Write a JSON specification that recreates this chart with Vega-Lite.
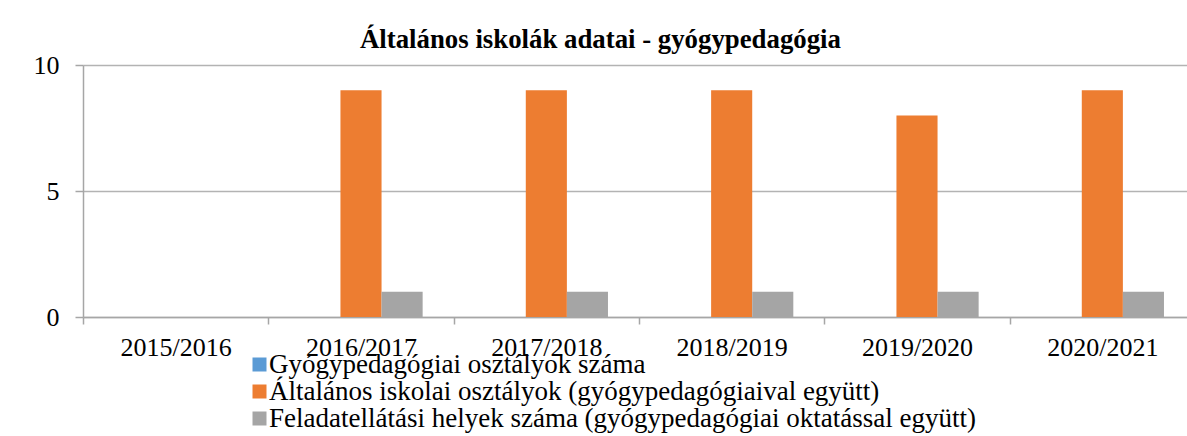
{
  "$schema": "https://vega.github.io/schema/vega-lite/v6.json",
  "autosize": "none",
  "width": 1112,
  "height": 252,
  "padding": {"left": 83, "top": 65, "right": 0, "bottom": 119},
  "background": "white",
  "config": {
    "font": "Liberation Serif",
    "view": {"stroke": null},
    "title": {"font": "Liberation Serif"},
    "legend": {"labelFont": "Liberation Serif"},
    "axis": {"labelFont": "Liberation Serif"}
  },
  "title": {
    "text": "Általános iskolák adatai - gyógypedagógia",
    "anchor": "start",
    "frame": "group",
    "dx": 277,
    "dy": 37,
    "offset": 14,
    "baseline": "alphabetic",
    "fontSize": 26.8,
    "fontWeight": "bold",
    "font": "Liberation Serif",
    "color": "black"
  },
  "data": {
    "values": [
      {"ev": "2015/2016", "sorozat": "Gyógypedagógiai osztályok száma", "ertek": 0},
      {"ev": "2015/2016", "sorozat": "Általános iskolai osztályok (gyógypedagógiaival együtt)", "ertek": 0},
      {"ev": "2015/2016", "sorozat": "Feladatellátási helyek száma (gyógypedagógiai oktatással együtt)", "ertek": 0},
      {"ev": "2016/2017", "sorozat": "Gyógypedagógiai osztályok száma", "ertek": 0},
      {"ev": "2016/2017", "sorozat": "Általános iskolai osztályok (gyógypedagógiaival együtt)", "ertek": 9},
      {"ev": "2016/2017", "sorozat": "Feladatellátási helyek száma (gyógypedagógiai oktatással együtt)", "ertek": 1},
      {"ev": "2017/2018", "sorozat": "Gyógypedagógiai osztályok száma", "ertek": 0},
      {"ev": "2017/2018", "sorozat": "Általános iskolai osztályok (gyógypedagógiaival együtt)", "ertek": 9},
      {"ev": "2017/2018", "sorozat": "Feladatellátási helyek száma (gyógypedagógiai oktatással együtt)", "ertek": 1},
      {"ev": "2018/2019", "sorozat": "Gyógypedagógiai osztályok száma", "ertek": 0},
      {"ev": "2018/2019", "sorozat": "Általános iskolai osztályok (gyógypedagógiaival együtt)", "ertek": 9},
      {"ev": "2018/2019", "sorozat": "Feladatellátási helyek száma (gyógypedagógiai oktatással együtt)", "ertek": 1},
      {"ev": "2019/2020", "sorozat": "Gyógypedagógiai osztályok száma", "ertek": 0},
      {"ev": "2019/2020", "sorozat": "Általános iskolai osztályok (gyógypedagógiaival együtt)", "ertek": 8},
      {"ev": "2019/2020", "sorozat": "Feladatellátási helyek száma (gyógypedagógiai oktatással együtt)", "ertek": 1},
      {"ev": "2020/2021", "sorozat": "Gyógypedagógiai osztályok száma", "ertek": 0},
      {"ev": "2020/2021", "sorozat": "Általános iskolai osztályok (gyógypedagógiaival együtt)", "ertek": 9},
      {"ev": "2020/2021", "sorozat": "Feladatellátási helyek száma (gyógypedagógiai oktatással együtt)", "ertek": 1}
    ]
  },
  "mark": {"type": "bar"},
  "encoding": {
    "x": {
      "field": "ev",
      "type": "nominal",
      "sort": null,
      "scale": {"paddingInner": 0, "paddingOuter": 0},
      "axis": {
        "title": null,
        "labelAngle": 0,
        "labelFontSize": 26,
        "labelColor": "black",
        "labelPadding": 10,
        "tickSize": 7,
        "tickBand": "extent",
        "tickColor": "#A6A6A6",
        "domainColor": "#A6A6A6",
        "domainWidth": 1.5,
        "tickWidth": 1.5
      }
    },
    "xOffset": {
      "field": "sorozat",
      "type": "nominal",
      "sort": ["Gyógypedagógiai osztályok száma", "Általános iskolai osztályok (gyógypedagógiaival együtt)", "Feladatellátási helyek száma (gyógypedagógiai oktatással együtt)"],
      "scale": {"paddingInner": 0, "paddingOuter": 0.755}
    },
    "y": {
      "field": "ertek",
      "type": "quantitative",
      "scale": {"domain": [0, 10], "nice": false},
      "axis": {
        "title": null,
        "values": [0, 5, 10],
        "labelFontSize": 26,
        "labelColor": "black",
        "labelPadding": 16,
        "tickSize": 8,
        "tickColor": "#A6A6A6",
        "tickWidth": 1.5,
        "domainColor": "#A6A6A6",
        "domainWidth": 1.5,
        "gridColor": "#B3B3B3",
        "gridWidth": 1.5
      }
    },
    "color": {
      "field": "sorozat",
      "type": "nominal",
      "sort": ["Gyógypedagógiai osztályok száma", "Általános iskolai osztályok (gyógypedagógiaival együtt)", "Feladatellátási helyek száma (gyógypedagógiai oktatással együtt)"],
      "scale": {"range": ["#5B9BD5", "#ED7D31", "#A5A5A5"]},
      "legend": {
        "title": null,
        "orient": "none",
        "legendX": 163,
        "legendY": 286,
        "direction": "vertical",
        "symbolType": "square",
        "symbolSize": 196,
        "symbolStrokeWidth": 0,
        "labelFont": "Liberation Serif",
        "labelFontSize": 27,
        "labelColor": "black",
        "labelOffset": -4,
        "labelLimit": 0,
        "rowPadding": -1
      }
    }
  }
}
